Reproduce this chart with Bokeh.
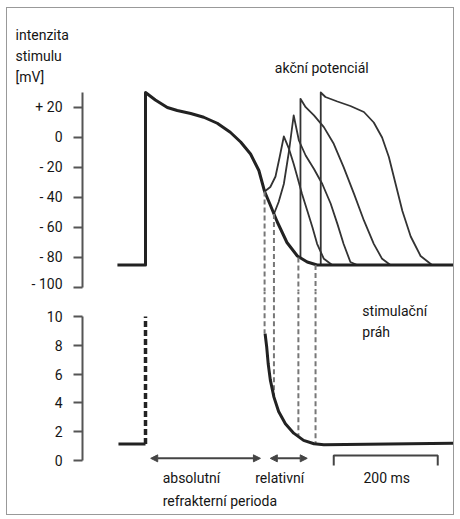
from bokeh.plotting import figure
from bokeh.layouts import column
from bokeh.models import Range1d, FixedTicker, Label, Arrow, NormalHead
from bokeh.embed import file_html
from bokeh.resources import INLINE

FONT = "Roboto"

# ---- data (time in ms, potential in mV, threshold in arbitrary units) ----
mv_ticks = [-100, -80, -60, -40, -20, 0, 20]
mv_labels = ["- 100", "- 80", "- 60", "- 40", "- 20", "0", "+ 20"]
thr_ticks = [0, 2, 4, 6, 8, 10]

ap_main_t = [-54, 0, 0, 19, 42, 61, 87, 112, 138, 163, 183, 202, 218, 229, 240, 253, 272, 292, 311, 330, 593]
ap_main_v = [-85, -85, 30, 25, 20, 18, 16, 13.5, 9.5, 3.5, -3, -11, -22, -36, -45, -56, -70, -79, -83, -85, -85]

ap2_t = [229, 240, 250, 258, 266, 276, 285, 292, 301, 311, 321, 330, 343, 359]
ap2_v = [-36, -33, -26, -13, 0.7, -7.6, -17.6, -26.4, -37.6, -48.7, -59.8, -70.9, -80.9, -85]

ap3_t = [247, 256, 266, 276, 282, 285, 295, 308, 324, 340, 356, 369, 381, 394, 407]
ap3_v = [-51, -43, -31, -9, 7, 14.7, -2, -12, -21, -31, -44, -57.6, -71, -83, -85]

ap4_t = [298, 298, 308, 324, 343, 362, 381, 401, 420, 439, 455, 471]
ap4_v = [-80, 25.8, 20.2, 14.7, 6.9, -4.2, -19.8, -37.6, -55.3, -70.9, -80.9, -85]

ap5_t = [337, 337, 346, 369, 394, 420, 439, 455, 468, 481, 494, 510, 529, 551]
ap5_v = [-85, 30, 27, 24, 21, 17, 10, 0, -13, -31, -49, -66, -79, -85]

dash_t = [229, 247, 294, 327]
dash_mv = [-36, -51, -80, -85]
dash_thr = [8.8, 4.4, 1.65, 1.15]

thr_base_t = [-52, 0]
thr_base_v = [1.15, 1.15]
stim_t = [0, 0]
stim_v = [1.15, 10]

thr_t = [230, 233, 236, 240, 247, 256, 269, 285, 304, 324, 343, 593]
thr_v = [8.8, 7.9, 6.7, 5.6, 4.4, 3.4, 2.55, 1.9, 1.4, 1.16, 1.1, 1.2]

bracket_t = [362, 362, 562, 562]
bracket_v = [-0.35, 0.35, 0.35, -0.35]

abs_arrow = (10, 221)
rel_arrow = (240, 311)
arrow_y = 0.15

axis_t = -121.15

# ---- figures ----
x_range = Range1d(-265.4, 592.3)

common = dict(width=446, x_range=x_range, x_axis_type=None,
              output_backend="svg", toolbar_location=None,
              min_border_left=0, min_border_right=0,
              min_border_top=0, min_border_bottom=0,
              background_fill_color="white", border_fill_color="white")

p1 = figure(height=283, y_range=Range1d(-102.67, 86.0), **common)
p2 = figure(height=223, y_range=Range1d(-3.75, 11.736), **common)

for p in (p1, p2):
    p.grid.visible = False
    p.outline_line_color = None
    ax = p.yaxis[0]
    ax.fixed_location = axis_t
    ax.axis_line_color = "#555555"
    ax.axis_line_width = 2
    ax.major_tick_line_color = "#555555"
    ax.major_tick_line_width = 2
    ax.major_tick_out = 9
    ax.major_tick_in = 0
    ax.minor_tick_line_color = None
    ax.major_label_standoff = 11
    ax.major_label_text_font = FONT
    ax.major_label_text_font_size = "14px"
    ax.major_label_text_color = "#151515"

p1.yaxis[0].ticker = FixedTicker(ticks=mv_ticks)
p1.yaxis[0].major_label_overrides = {t: l for t, l in zip(mv_ticks, mv_labels)}
p1.yaxis[0].bounds = (-100, 30)

p2.yaxis[0].ticker = FixedTicker(ticks=thr_ticks)
p2.yaxis[0].bounds = (0, 10)

# ---- top: action potentials ----
for tt, vv in ((ap2_t, ap2_v), (ap3_t, ap3_v), (ap4_t, ap4_v), (ap5_t, ap5_v)):
    p1.line(tt, vv, line_width=1.8, line_color="#333333", line_join="round")
p1.line(ap_main_t, ap_main_v, line_width=3, line_color="#222222", line_join="round")
p1.segment(x0=dash_t, y0=dash_mv, x1=dash_t, y1=[-110] * len(dash_t),
           line_width=2, line_color="#777777", line_dash="5 3")

# ---- bottom: stimulation threshold ----
p2.segment(x0=dash_t, y0=[13] * len(dash_t), x1=dash_t, y1=dash_thr,
           line_width=2, line_color="#777777", line_dash="5 3")
p2.line(thr_base_t, thr_base_v, line_width=3, line_color="#222222")
p2.line(stim_t, stim_v, line_width=3.5, line_color="#222222", line_dash="6 3")
p2.line(thr_t, thr_v, line_width=3, line_color="#222222", line_join="round")
p2.line(bracket_t, bracket_v, line_width=2, line_color="#444444")

for a0, a1 in (abs_arrow, rel_arrow):
    p2.add_layout(Arrow(start=NormalHead(size=7, fill_color="#444444", line_color="#444444"),
                        end=NormalHead(size=7, fill_color="#444444", line_color="#444444"),
                        x_start=a0, x_end=a1, y_start=arrow_y, y_end=arrow_y,
                        line_width=2, line_color="#444444"))

def lab(p, x, y, text, align="left"):
    p.add_layout(Label(x=x, y=y, text=text, text_font=FONT, text_font_size="14px",
                       text_color="#151515", text_align=align, text_baseline="middle"))

lab(p1, 339, 46, "akční potenciál", "center")
lab(p1, -250, 68, "intenzita")
lab(p1, -250, 54, "stimulu")
lab(p1, -250, 40, "[mV]")

lab(p2, 417, 10.4, "stimulační")
lab(p2, 417, 8.9, "práh")
lab(p2, 33, -1.2, "absolutní")
lab(p2, 33, -2.8, "refrakterní perioda")
lab(p2, 211, -1.2, "relativní")
lab(p2, 464, -1.2, "200 ms", "center")

layout = column(p1, p2, styles={"border": "1px solid #999999",
                                "margin-left": "6px", "margin-top": "7px"})

open("out.html", "w").write(file_html(layout, INLINE))
